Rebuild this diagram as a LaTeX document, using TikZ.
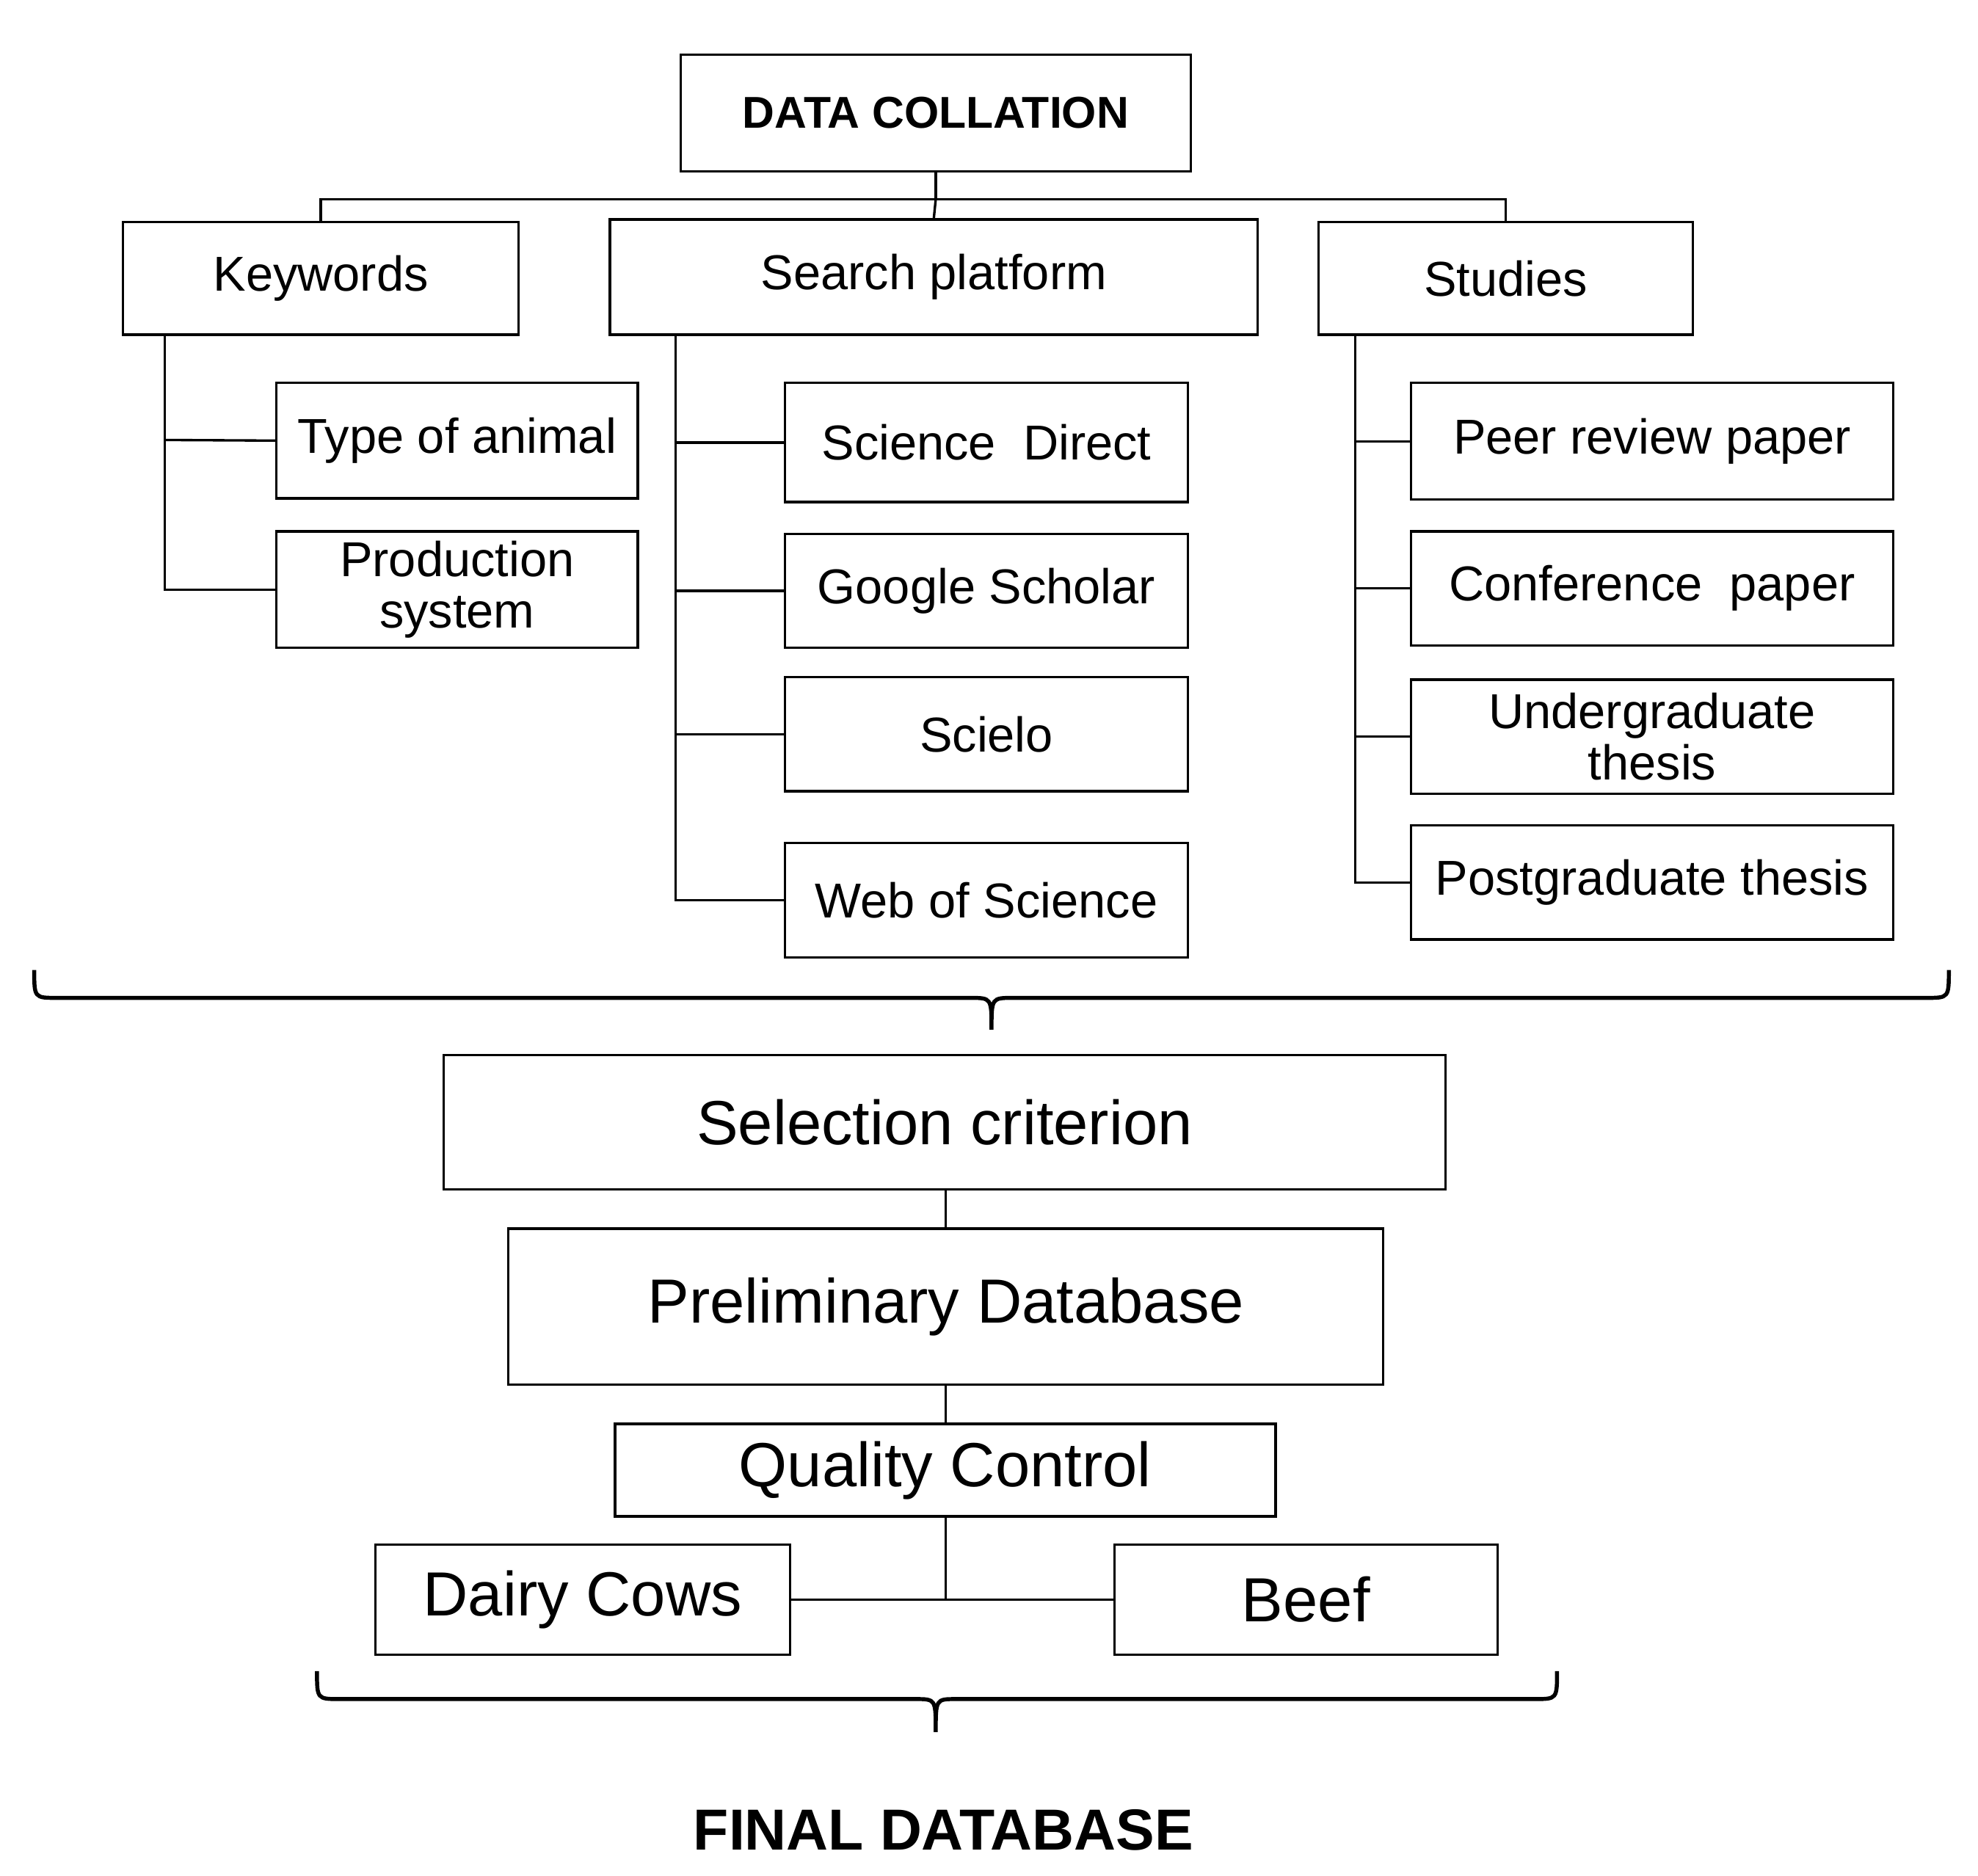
\documentclass[tikz,border=0pt]{standalone}
\usepackage{fontspec}
\setmainfont{Liberation Sans}
\begin{document}
\begin{tikzpicture}[x=0.02cm,y=-0.02cm,
  box/.style={draw,line width=1.1pt,inner sep=0pt,align=center},
  ln/.style={line width=1.1pt},
  br/.style={line width=1.8pt},
  sm/.style={font=\fontsize{22}{23}\selectfont},
  bg/.style={font=\fontsize{28}{30}\selectfont}]
\useasboundingbox (0,0) rectangle (1560,1479);
\newcommand\bx[7]{\node[box,#7,minimum width={(#4-#2)*0.02cm},minimum height={(#5-#3)*0.02cm}] (#1) at ({(#2+#4)/2},{(#3+#5)/2}) {#6};}
\bx{dc}{537}{43}{939}{135}{\textbf{DATA COLLATION}}{font=\fontsize{20}{22}\selectfont}
\bx{kw}{97}{175}{409}{264}{Keywords}{sm}
\bx{sp}{481}{173}{992}{264}{Search platform}{sm}
\bx{st}{1040}{175}{1335}{264}{Studies}{sm}
\bx{ta}{218}{302}{503}{393}{Type of animal}{sm}
\bx{ps}{218}{419}{503}{511}{Production\\system}{sm}
\bx{sd}{619}{302}{937}{396}{Science\ \ Direct}{sm}
\bx{gs}{619}{421}{937}{511}{Google Scholar}{sm}
\bx{sc}{619}{534}{937}{624}{Scielo}{sm}
\bx{ws}{619}{665}{937}{755}{Web of Science}{sm}
\bx{pr}{1113}{302}{1493}{394}{Peer review paper}{sm}
\bx{cp}{1113}{419}{1493}{509}{Conference\ \ paper}{sm}
\bx{ut}{1113}{536}{1493}{626}{Undergraduate\\thesis}{sm}
\bx{pt}{1113}{651}{1493}{741}{Postgraduate thesis}{sm}
\bx{sel}{350}{832}{1140}{938}{Selection criterion}{bg}
\bx{pd}{401}{969}{1091}{1092}{Preliminary Database}{bg}
\bx{qc}{485}{1123}{1006}{1196}{Quality Control}{bg}
\bx{dy}{296}{1218}{623}{1305}{Dairy Cows}{bg}
\bx{bf}{879}{1218}{1181}{1305}{Beef}{bg}
\node[font=\fontsize{26}{28}\selectfont\bfseries] (fd) at (744,1443) {FINAL DATABASE};
% top tree
\coordinate (j0) at (738,157);
\draw[ln] (dc.south) -- (j0);
\draw[ln] (kw.north) |- (j0) -| (st.north);
\draw[ln] (j0) -- (sp.north);
% keywords
\draw[ln] (130,264) |- (ps.west);
\draw[ln] (130,347) -- (ta.west);
% search platform
\draw[ln] (533,264) |- (ws.west);
\foreach \n in {sd,gs,sc} \draw[ln] (533,0 |- \n.west) -- (\n.west);
% studies
\draw[ln] (1069,264) |- (pt.west);
\foreach \n in {pr,cp,ut} \draw[ln] (1069,0 |- \n.west) -- (\n.west);
% braces
\draw[br] (27,765) .. controls (27,787) .. (45,787) -- (765,787) .. controls (782,787) .. (782,812)
  .. controls (782,787) .. (799,787) -- (1519,787) .. controls (1537,787) .. (1537,765);
\draw[br] (250,1318) .. controls (250,1340) .. (268,1340) -- (722,1340) .. controls (738,1340) .. (738,1366)
  .. controls (738,1340) .. (754,1340) -- (1210,1340) .. controls (1228,1340) .. (1228,1318);
% lower chain
\draw[ln] (746,938) -- (746,969);
\draw[ln] (746,1092) -- (746,1123);
\coordinate (j1) at (746,1262);
\draw[ln] (746,1196) -- (j1);
\draw[ln] (dy.east) -- (bf.west);
\end{tikzpicture}
\end{document}
